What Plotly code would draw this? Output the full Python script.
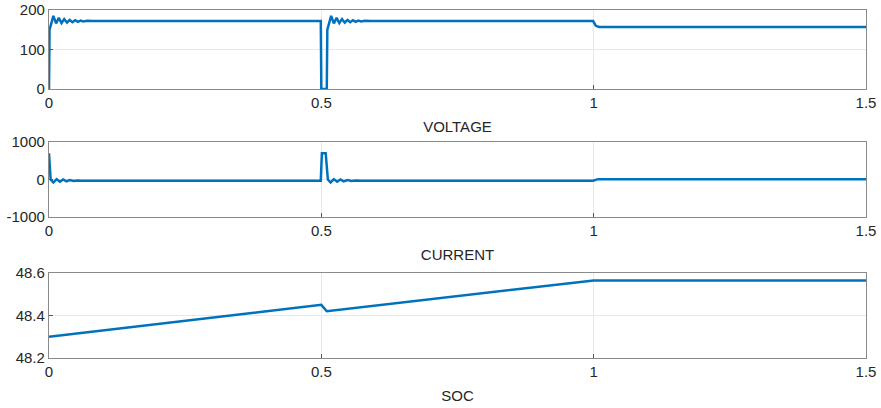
import plotly.graph_objects as go

# ---- data ----
volt_t = [0, 0.001, 0.004, 0.008, 0.013, 0.018, 0.023, 0.028, 0.033, 0.038, 0.043, 0.048, 0.053, 0.058, 0.063, 0.070, 0.080,
          0.499, 0.500, 0.510, 0.511, 0.514, 0.518, 0.523, 0.528, 0.533, 0.538, 0.543, 0.548, 0.553, 0.558, 0.563, 0.568, 0.573, 0.580, 0.590,
          0.999, 1.004, 1.010, 1.5]
volt_v = [0, 150, 165, 185, 166, 180, 167, 177, 168, 175, 169, 174, 170, 173, 171, 172.5, 172,
          172, 0, 0, 150, 165, 185, 166, 180, 167, 177, 168, 175, 169, 174, 170, 173, 171, 172.5, 172,
          172, 160, 157, 157]

curr_t = [0, 0.003, 0.008, 0.014, 0.020, 0.026, 0.032, 0.038, 0.045, 0.052, 0.060, 0.070,
          0.499, 0.501, 0.508, 0.512, 0.517, 0.523, 0.529, 0.535, 0.541, 0.548, 0.555, 0.563, 0.573,
          0.999, 1.008, 1.5]
curr_v = [700, 0, -80, 10, -60, 0, -50, -15, -40, -25, -35, -30,
          -30, 700, 700, 0, -80, 10, -60, 0, -50, -15, -40, -25, -30,
          -30, 10, 10]

soc_t = [0, 0.5, 0.51, 1.0, 1.5]
soc_v = [48.30, 48.45, 48.42, 48.565, 48.565]

x_ticks = [0, 0.5, 1, 1.5]
x_ticklabels = ["0", "0.5", "1", "1.5"]
titles = ["VOLTAGE", "CURRENT", "SOC"]
y_ranges = [[0, 200], [-1000, 1000], [48.2, 48.6]]
y_ticks = [[0, 100, 200], [-1000, 0, 1000], [48.2, 48.4, 48.6]]
y_ticklabels = [["0", "100", "200"], ["-1000", "0", "1000"], ["48.2", "48.4", "48.6"]]

W, H = 881, 408
domains_px = [(10, 89), (142, 217), (273, 358)]
x_dom = [49 / W, 866 / W]

fig = go.Figure()
series = [(volt_t, volt_v), (curr_t, curr_v), (soc_t, soc_v)]
font = dict(family="Liberation Sans, Arial, sans-serif", size=15, color="#262626")

for i, (t, v) in enumerate(series):
    n = "" if i == 0 else str(i + 1)
    fig.add_trace(go.Scatter(x=t, y=v, mode="lines", xaxis="x" + n, yaxis="y" + n,
                             line=dict(color="#0072BD", width=2.5), showlegend=False))
    top, bot = domains_px[i]
    common = dict(showline=True, mirror=True, linecolor="#8a8a8a", linewidth=1.3,
                  ticks="inside", ticklen=4, tickcolor="#555", showgrid=True,
                  gridcolor="#e8e8e8", gridwidth=1, zeroline=False, tickfont=font,
                  automargin=False)
    fig.layout["xaxis" + n] = dict(domain=x_dom, anchor="y" + n, range=[0, 1.5],
                                   tickvals=x_ticks, ticktext=x_ticklabels,
                                   title=dict(text=titles[i], font=font, standoff=11), **common)
    fig.layout["yaxis" + n] = dict(domain=[1 - bot / H, 1 - top / H], anchor="x" + n,
                                   range=y_ranges[i], tickvals=y_ticks[i], ticktext=y_ticklabels[i],
                                   **common)

fig.update_layout(width=W, height=H, margin=dict(l=0, r=0, t=0, b=0),
                  plot_bgcolor="white", paper_bgcolor="white", font=font)
fig.write_html("out.html", config={"displayModeBar": False},
               post_script="document.body.style.margin='0';")
